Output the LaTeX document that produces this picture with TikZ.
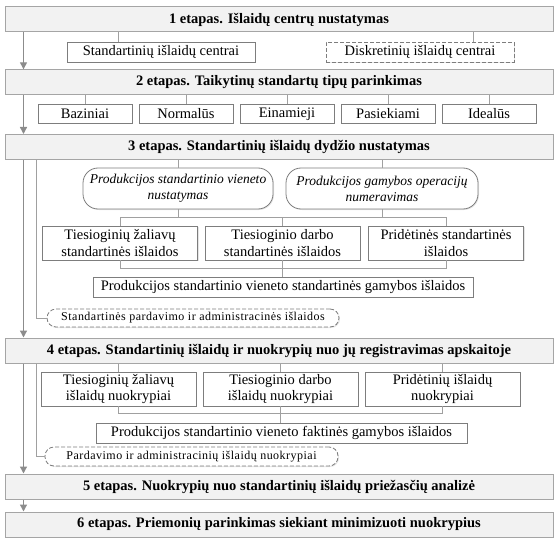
\documentclass[tikz,border=0pt]{standalone}
\usepackage{fontspec}
\setmainfont{Liberation Serif}
\newfontfamily\spacedserif[LetterSpace=4]{Liberation Serif}
\usetikzlibrary{arrows.meta,shadows}

\definecolor{barFill}{RGB}{242,242,242}
\definecolor{barLine}{RGB}{165,165,165}
\definecolor{boxLine}{RGB}{125,125,125}
\definecolor{linkLine}{RGB}{160,160,160}
\definecolor{flowLine}{RGB}{140,140,140}

\tikzset{
  stage/.style={draw=barLine, fill=barFill, line width=1pt, minimum width=548pt, minimum height=25pt, inner sep=0pt, font=\fontsize{14.5}{16}\selectfont\bfseries},
  item/.style={draw=boxLine, fill=white, line width=0.8pt, inner sep=0pt, align=center, font=\fontsize{14.5}{16.7}\selectfont, drop shadow={shadow xshift=1pt,shadow yshift=-1pt,fill=black!20}},
  itemdash/.style={item, dash pattern=on 4pt off 2pt},
  method/.style={item, rounded corners=15pt, font=\fontsize{13.5}{16}\selectfont\itshape},
  extra/.style={item, dash pattern=on 4pt off 2pt, rounded corners=9pt, font=\fontsize{12}{14}\selectfont\spacedserif},
  link/.style={draw=linkLine, line width=0.9pt},
  flow/.style={draw=flowLine, line width=1.3pt, -{Triangle[width=7pt,length=7pt]}},
}

\begin{document}
\begin{tikzpicture}[x=1pt,y=-1pt]
\useasboundingbox (0,0) rectangle (556,540);
\node[stage] (s1) at (279,19.5) {1 etapas. Išlaidų centrų nustatymas};
\node[item, minimum width=188pt, minimum height=20pt] (std) at (161,52) {Standartinių išlaidų centrai};
\node[itemdash, minimum width=188pt, minimum height=20pt] (dis) at (420,52) {Diskretinių išlaidų centrai};
\draw[link] ([xshift=-43pt]std.north) -- ([xshift=-43pt]std.north |- s1.south);
\draw[link] ([xshift=53pt]dis.north) -- ([xshift=53pt]dis.north |- s1.south);

\node[stage] (s2) at (279,82.3) {2 etapas. Taikytinų standartų tipų parinkimas};
\foreach \name/\x/\txt in {baz/85/Baziniai, nor/186/Normalūs, ein/287/Einamieji, pas/388/Pasiekiami, ide/489/Idealūs}{
  \node[item, minimum width=94pt, minimum height=19pt] (\name) at (\x,114) {\txt};
  \draw[link] (\name.north) -- (\name.north |- s2.south);
}

\node[stage] (s3) at (279,147) {3 etapas. Standartinių išlaidų dydžio nustatymas};
\node[method, minimum width=190pt, minimum height=41pt] (m1) at (178,188.5) {Produkcijos standartinio vieneto\\nustatymas};
\node[method, minimum width=192pt, minimum height=41pt] (m2) at (382,188.5) {Produkcijos gamybos operacijų\\numeravimas};
\node[item, minimum width=155pt, minimum height=34pt] (zs) at (120,243) {Tiesioginių žaliavų\\standartinės išlaidos};
\node[item, minimum width=155pt, minimum height=34pt] (ds) at (282.5,243) {Tiesioginio darbo\\standartinės išlaidos};
\node[item, minimum width=155pt, minimum height=34pt] (ps) at (446,243) {Pridėtinės standartinės\\išlaidos};
\node[item, minimum width=380pt, minimum height=20pt] (su) at (283,287) {Produkcijos standartinio vieneto standartinės gamybos išlaidos};
\node[extra, minimum width=292pt, minimum height=18pt] (sp) at (193,318) {Standartinės pardavimo ir administracinės išlaidos};
\draw[link] (m1.north) -- (m1.north |- s3.south);
\draw[link] (m2.north) -- (m2.north |- s3.south);
\coordinate (j3) at ([yshift=8pt]zs.north);
\coordinate (k3) at ([yshift=-8pt]zs.south);
\draw[link] (zs.north) -- (j3) -| (ps.north);
\draw[link] (ds.north) -- (ds.north |- j3);
\draw[link] (m1.south) -- (m1.south |- j3);
\draw[link] (m2.south) -- (m2.south |- j3);
\draw[link] (zs.south) -- (k3) -| (ps.south);
\draw[link] (ds.south) -- (ds.south |- su.north);
\draw[link] (sp.west) -| ([xshift=31.5pt]s3.south west);

\node[stage] (s4) at (279,350.5) {4 etapas. Standartinių išlaidų ir nuokrypių nuo jų registravimas apskaitoje};
\node[item, minimum width=155pt, minimum height=34pt] (zn) at (118.5,389) {Tiesioginių žaliavų\\išlaidų nuokrypiai};
\node[item, minimum width=155pt, minimum height=34pt] (dn) at (280.5,389) {Tiesioginio darbo\\išlaidų nuokrypiai};
\node[item, minimum width=155pt, minimum height=34pt] (pn) at (442.5,389) {Pridėtinių išlaidų\\nuokrypiai};
\node[item, minimum width=371pt, minimum height=20pt] (fu) at (281.5,433) {Produkcijos standartinio vieneto faktinės gamybos išlaidos};
\node[extra, minimum width=293pt, minimum height=19pt] (pa) at (191.5,456.5) {Pardavimo ir administracinių išlaidų nuokrypiai};
\foreach \name in {zn,dn,pn}
  \draw[link] (\name.north) -- (\name.north |- s4.south);
\coordinate (k4) at ([yshift=-7pt]zn.south);
\draw[link] (zn.south) -- (k4) -| (pn.south);
\draw[link] (dn.south) -- (dn.south |- fu.north);
\draw[link] (pa.west) -| ([xshift=31.5pt]s4.south west);

\node[stage] (s5) at (279,486.5) {5 etapas. Nuokrypių nuo standartinių išlaidų priežasčių analizė};
\node[stage] (s6) at (279,524.5) {6 etapas. Priemonių parinkimas siekiant minimizuoti nuokrypius};

\foreach \a/\b in {s1/s2,s2/s3,s3/s4,s4/s5,s5/s6}
  \draw[flow] ([xshift=19pt]\a.south west) -- ([xshift=19pt]\b.north west);
\end{tikzpicture}
\end{document}
